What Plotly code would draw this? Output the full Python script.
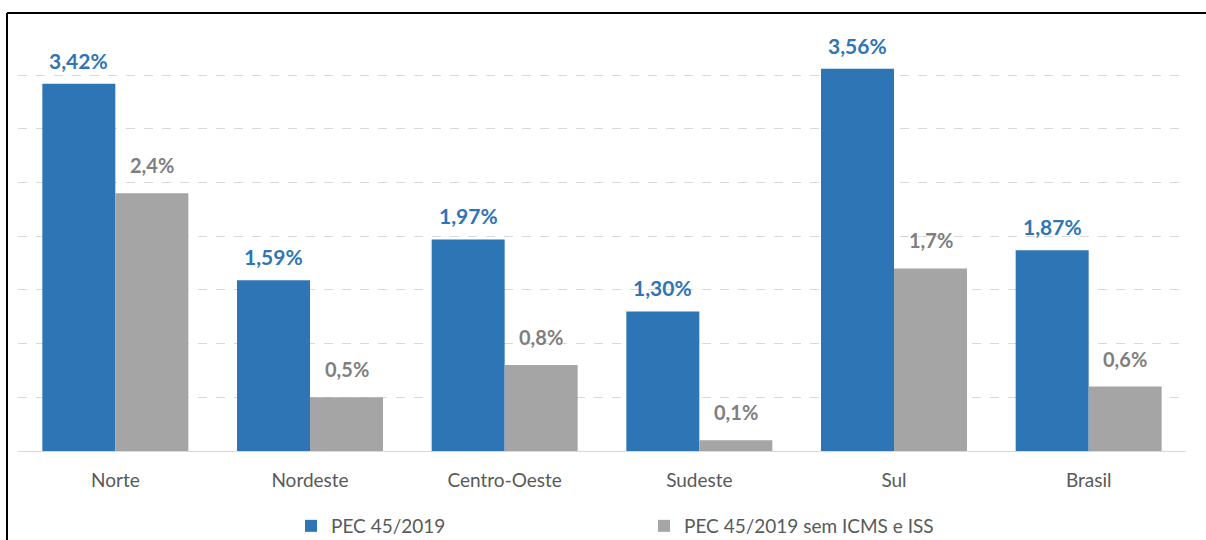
import plotly.graph_objects as go

# Regional impact, by PEC 45/2019 scenario (%)
regioes = ["Norte", "Nordeste", "Centro-Oeste", "Sudeste", "Sul", "Brasil"]
pec_45 = [3.42, 1.59, 1.97, 1.30, 3.56, 1.87]
pec_45_sem_icms_iss = [2.4, 0.5, 0.8, 0.1, 1.7, 0.6]

nome_pec = "PEC 45/2019"
nome_sem = "PEC 45/2019 sem ICMS e ISS"

AZUL = "#2E75B6"
CINZA = "#A5A5A5"
FONTE = "Lato, 'Open Sans', sans-serif"

W, H = 1206, 540
ML, MR, MT, MB = 18, 20, 30, 89
Y_MAX = 3.92

fig = go.Figure()
fig.add_trace(go.Bar(x=regioes, y=pec_45, name=nome_pec, marker_color=AZUL,
                     marker_line_width=0))
fig.add_trace(go.Bar(x=regioes, y=pec_45_sem_icms_iss, name=nome_sem,
                     marker_color=CINZA, marker_line_width=0))

# Value labels above each bar
plot_w = W - ML - MR
band = plot_w / len(regioes)
half_bar = band * 0.75 / 4
for reg, v in zip(regioes, pec_45):
    fig.add_annotation(x=reg, y=v, text=f"{v:.2f}%".replace(".", ","),
                       xshift=-half_bar, yshift=9, yanchor="bottom",
                       showarrow=False,
                       font=dict(family=FONTE, size=21, color=AZUL, weight="bold"))
for reg, v in zip(regioes, pec_45_sem_icms_iss):
    fig.add_annotation(x=reg, y=v, text=f"{v:.1f}%".replace(".", ","),
                       xshift=half_bar, yshift=14, yanchor="bottom",
                       showarrow=False,
                       font=dict(family=FONTE, size=20, color="#7F7F7F", weight="bold"))

# Frame lines on the left and top edges of the image
plot_h = H - MT - MB
def px_x(p):
    return (p - ML) / plot_w
def px_y(p):
    return (H - MB - p) / plot_h
fig.add_shape(type="line", xref="paper", yref="paper",
              x0=px_x(7), x1=px_x(W + 5), y0=px_y(13), y1=px_y(13),
              line=dict(color="#000000", width=2))
fig.add_shape(type="line", xref="paper", yref="paper",
              x0=px_x(7), x1=px_x(7), y0=px_y(13), y1=px_y(H + 5),
              line=dict(color="#000000", width=2))

fig.update_layout(
    width=W, height=H,
    margin=dict(l=ML, r=MR, t=MT, b=MB, autoexpand=False),
    paper_bgcolor="white", plot_bgcolor="white",
    barmode="group", bargap=0.25, bargroupgap=0,
    separators=",.",
    font=dict(family=FONTE, color="#595959"),
    showlegend=True,
    legend=dict(orientation="h", xref="container", yref="container",
                x=291 / W, xanchor="left",
                y=1 - 526 / H, yanchor="middle",
                entrywidth=308, entrywidthmode="pixels",
                font=dict(family=FONTE, size=19, color="#595959"),
                itemclick=False, itemdoubleclick=False),
    xaxis=dict(showgrid=False, showline=True, linecolor="#D9D9D9", linewidth=1,
               ticks="", tickfont=dict(family=FONTE, size=19, color="#595959"),
               ticklabelstandoff=12),
    yaxis=dict(range=[0, Y_MAX], dtick=0.5, showticklabels=False,
               showgrid=True, gridcolor="#D9D9D9", griddash="dash", gridwidth=1,
               zeroline=False, showline=False),
)

fig.write_html("out.html")
